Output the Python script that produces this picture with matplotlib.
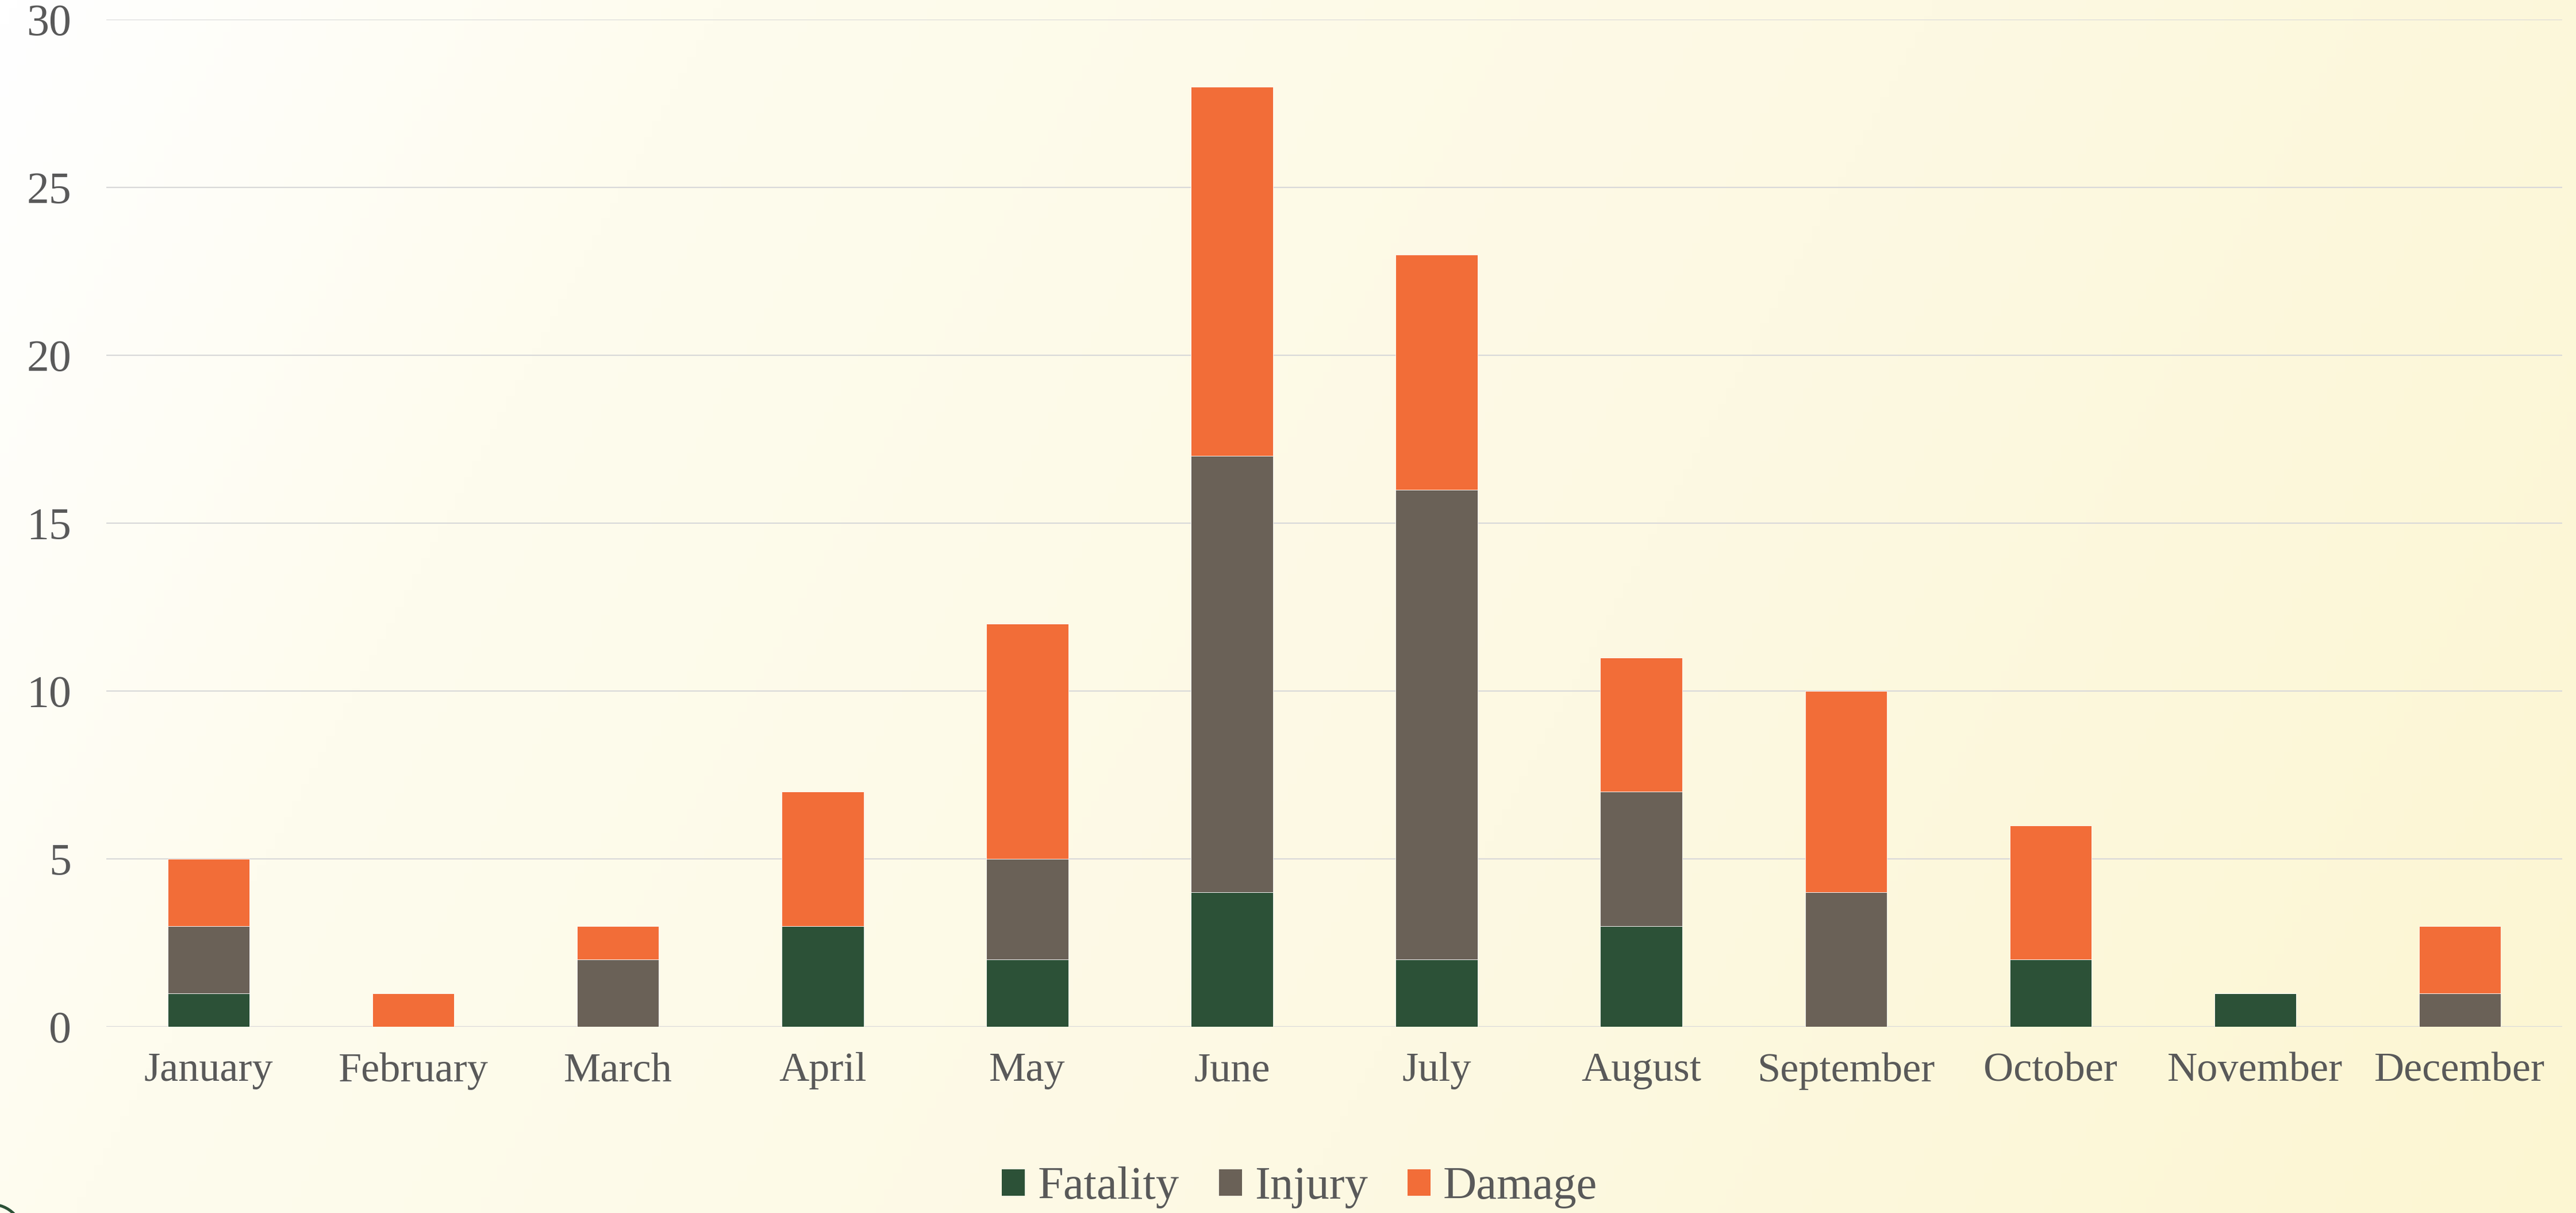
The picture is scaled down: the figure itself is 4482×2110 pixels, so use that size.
import numpy as np
import matplotlib
matplotlib.use('Agg')
import matplotlib.pyplot as plt
from matplotlib.patches import Patch, Circle
from matplotlib.colors import LinearSegmentedColormap

months = ['January', 'February', 'March', 'April', 'May', 'June',
          'July', 'August', 'September', 'October', 'November', 'December']
fatality = [1, 0, 0, 3, 2, 4, 2, 3, 0, 2, 1, 0]
injury = [2, 0, 2, 0, 3, 13, 14, 4, 4, 0, 0, 1]
damage = [2, 1, 1, 4, 7, 11, 7, 4, 6, 4, 0, 2]

colors = {'Fatality': '#2C5137', 'Injury': '#6A6157', 'Damage': '#F26D38'}
text_color = '#595959'

plt.rcParams['font.family'] = ['Liberation Serif', 'DejaVu Serif']

fig = plt.figure(figsize=(22.41, 10.55), dpi=200)

# gradient background, white top-left to pale yellow on the right
bg = fig.add_axes([0, 0, 1, 1], zorder=-10)
xx, yy = np.meshgrid(np.linspace(0, 1, 300), np.linspace(0, 1, 150))
grad = np.clip(0.8 * xx + 0.2 * yy, 0, 1)
cmap = LinearSegmentedColormap.from_list(
    'bg', [(0, '#FFFFFF'), (0.22, '#FEFCEE'), (0.6, '#FDF9E3'), (1, '#FCF6D2')])
bg.imshow(grad, cmap=cmap, aspect='auto', extent=[0, 1, 0, 1], origin='upper')
bg.set_xlim(0, 1)
bg.set_ylim(0, 1)
bg.axis('off')

# small decorative ring peeking in at the bottom-left corner
bg.add_patch(Circle((-0.075, -0.2), 0.275, transform=fig.dpi_scale_trans,
                    fill=False, edgecolor='#2C5137', linewidth=1.8))

ax = fig.add_axes([0.04128, 0.15355, 0.95337, 0.83034])
ax.patch.set_alpha(0)

x = np.arange(len(months))
width = 0.4
f = np.array(fatality)
i = np.array(injury)
d = np.array(damage)

ax.bar(x, f, width, color=colors['Fatality'], edgecolor='#FFFFFF', linewidth=0.3, zorder=3)
ax.bar(x, i, width, bottom=f, color=colors['Injury'], edgecolor='#FFFFFF', linewidth=0.3, zorder=3)
ax.bar(x, d, width, bottom=f + i, color=colors['Damage'], edgecolor='#FFFFFF', linewidth=0.3, zorder=3)

ax.set_xlim(-0.5, len(months) - 0.5)
ax.set_ylim(0, 30)
ax.set_yticks(range(0, 31, 5))
ax.set_xticks(x)
ax.set_xticklabels(months)

ax.grid(axis='y', color='#D9D9D9', linewidth=0.8, zorder=0)
ax.set_axisbelow(True)
for side in ['top', 'right', 'left', 'bottom']:
    ax.spines[side].set_visible(False)

ax.tick_params(axis='x', length=0, pad=16, labelsize=26, labelcolor=text_color)
ax.tick_params(axis='y', length=0, pad=22, labelsize=28, labelcolor=text_color)

handles = [Patch(facecolor=c, label=k) for k, c in colors.items()]
leg = fig.legend(handles=handles, loc='center', bbox_to_anchor=(0.5045, 0.021),
                 ncol=3, frameon=False, fontsize=29, handlelength=0.5,
                 handleheight=0.5, handletextpad=0.27, columnspacing=0.86)
for t in leg.get_texts():
    t.set_color(text_color)

fig.savefig('out.png', dpi=200)
